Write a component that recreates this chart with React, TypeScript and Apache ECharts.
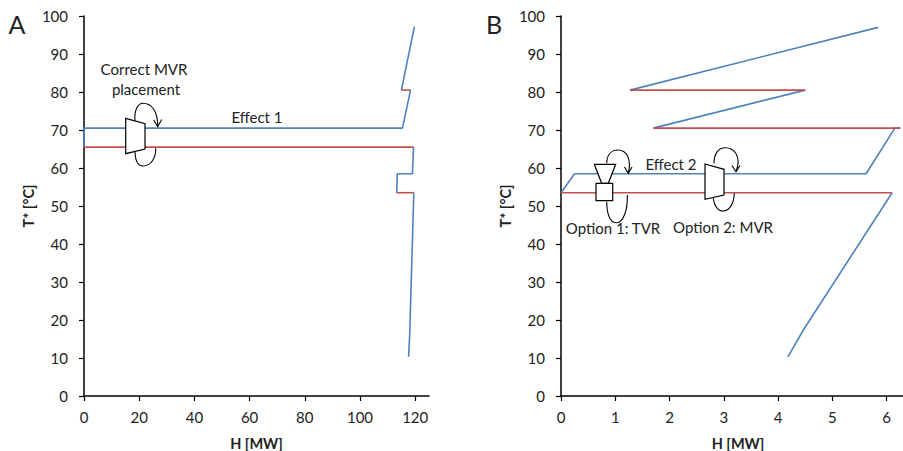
import React, { useEffect, useRef } from "react";
import * as echarts from "echarts";

const FONT = "Lato, Carlito, sans-serif";
const BLUE = "#4f81bd";
const RED = "#c0504d";

const yTicks = [0, 10, 20, 30, 40, 50, 60, 70, 80, 90, 100];
const xTicksA = [0, 20, 40, 60, 80, 100, 120];
const xTicksB = [0, 1, 2, 3, 4, 5, 6];

// Panel A
const aBlue1 = [[117.6, 10.3], [118, 16], [119.5, 53.5]];
const aRed1 = [[119.5, 53.5], [113.3, 53.5]];
const aBlue2 = [[113.3, 53.5], [113.5, 58.5], [119, 58.5], [119.4, 65.5]];
const aRed2 = [[119.4, 65.5], [0, 65.5]];
const aBlue3 = [[0, 65.5], [0, 70.5], [115.4, 70.5], [118.3, 80.5]];
const aRed3 = [[118.3, 80.5], [115, 80.5]];
const aBlue4 = [[115, 80.5], [119.7, 97.2]];

// Panel B
const bBlue1 = [[4.18, 10.3], [4.47, 17.5], [6.1, 53.5]];
const bRed1 = [[6.1, 53.5], [0, 53.5]];
const bBlue2 = [[0, 53.5], [0.25, 58.5], [5.62, 58.5], [6.15, 70.5], [6.25, 70.5]];
const bRed2 = [[6.25, 70.5], [1.7, 70.5]];
const bBlue3 = [[1.7, 70.5], [4.5, 80.5]];
const bRed3 = [[4.5, 80.5], [1.27, 80.5]];
const bBlue4 = [[1.27, 80.5], [5.84, 97]];

const loops: Record<string, string> = {
  loopA1: "M135 120.7 C134 110 138 103.3 143 103.3 C152 103.3 158 112 157.7 126.7",
  loopA2: "M135 150 C135 160 138 166 143 166 C151 166 156 158 155.7 148.3",
  loopB1: "M606.7 163.3 C607 154 612 150 618 150 C626 150 632 158 628.3 173.3",
  loopB2: "M606.7 201.7 C607 216 611 222.7 616.7 222.7 C623 222.7 628 210 627.3 195",
  loopB3: "M714 163.3 C714 153 719 147.7 725 147.7 C734 147.7 742 156 736 171.7",
  loopB4: "M713.3 198.3 C714 206 718 211 723.3 211 C729 211 734 204 734.3 193.3",
};
Object.keys(loops).forEach((k) => {
  echarts.graphic.registerShape(k, echarts.graphic.extendPath(loops[k], {}));
});

const lineSeries = (data: number[][], color: string, idx: number) => ({
  type: "line",
  data,
  xAxisIndex: idx,
  yAxisIndex: idx,
  symbol: "none",
  clip: false,
  silent: true,
  lineStyle: { color, width: 1.6 },
});

const xAxis = (gridIndex: number, max: number, ticks: number[], shift: number) => ({
  type: "value",
  gridIndex,
  min: 0,
  max,
  name: "H [MW]",
  nameLocation: "middle",
  nameGap: 40,
  nameTextStyle: {
    fontFamily: FONT,
    fontWeight: "bold",
    fontSize: 14.5,
    color: "#222",
    padding: [0, 0, 0, shift],
  },
  splitLine: { show: false },
  axisLine: { show: true, onZero: false, lineStyle: { color: "#000", width: 1.5 } },
  axisTick: { show: true, customValues: ticks, length: 5, lineStyle: { color: "#000", width: 1.2 } },
  axisLabel: { customValues: ticks, fontFamily: FONT, fontSize: 15, color: "#222", margin: 13 },
});

const yAxis = (gridIndex: number) => ({
  type: "value",
  gridIndex,
  min: 0,
  max: 100,
  interval: 10,
  name: "T* [°C]",
  nameLocation: "middle",
  nameGap: 48,
  nameTextStyle: { fontFamily: FONT, fontWeight: "bold", fontSize: 14.5, color: "#222" },
  splitLine: { show: false },
  axisLine: { show: true, onZero: false, lineStyle: { color: "#000", width: 1.5 } },
  axisTick: { show: true, length: 5, lineStyle: { color: "#000", width: 1.2 } },
  axisLabel: { customValues: yTicks, fontFamily: FONT, fontSize: 15, color: "#222", margin: 16 },
});

const label = (text: string, x: number, y: number, fontSize = 15) => ({
  type: "text",
  z: 20,
  x,
  y,
  style: { text, fontFamily: FONT, fontSize, fill: "#222", align: "center", verticalAlign: "middle" },
});

const poly = (points: number[][]) => ({
  type: "polygon",
  z: 15,
  shape: { points },
  style: { fill: "#fff", stroke: "#000", lineWidth: 1.2 },
});

const chain = (points: number[][]) => ({
  type: "polyline",
  z: 16,
  shape: { points },
  style: { fill: "none", stroke: "#000", lineWidth: 1.1 },
});

const loop = (type: string) => ({
  type,
  z: 14,
  style: { fill: "none", stroke: "#000", lineWidth: 1.1 },
});

export default function App() {
  const ref = useRef<HTMLDivElement>(null);
  useEffect(() => {
    const chart = echarts.init(ref.current!, undefined, { renderer: "svg" });
    chart.setOption({
      animation: false,
      backgroundColor: "#fff",
      grid: [
        { left: 84, top: 16, width: 345, height: 380, outerBoundsMode: "none" },
        { left: 561, top: 16, width: 342, height: 380, outerBoundsMode: "none" },
      ],
      xAxis: [xAxis(0, 125, xTicksA, 0), xAxis(1, 6.3, xTicksB, 12)],
      yAxis: [yAxis(0), yAxis(1)],
      series: [
        lineSeries(aBlue1, BLUE, 0),
        lineSeries(aBlue2, BLUE, 0),
        lineSeries(aBlue3, BLUE, 0),
        lineSeries(aBlue4, BLUE, 0),
        lineSeries(aRed1, RED, 0),
        lineSeries(aRed2, RED, 0),
        lineSeries(aRed3, RED, 0),
        lineSeries(bBlue1, BLUE, 1),
        lineSeries(bBlue2, BLUE, 1),
        lineSeries(bBlue3, BLUE, 1),
        lineSeries(bBlue4, BLUE, 1),
        lineSeries(bRed1, RED, 1),
        lineSeries(bRed2, RED, 1),
        lineSeries(bRed3, RED, 1),
      ],
      graphic: [
        label("A", 17, 24, 25),
        label("B", 494, 24, 25),
        label("Correct MVR", 144, 69),
        label("placement", 146, 89),
        label("Effect 1", 257, 117),
        label("Effect 2", 671, 164),
        label("Option 1: TVR", 613, 228),
        label("Option 2: MVR", 723, 227),
        loop("loopA1"),
        loop("loopA2"),
        loop("loopB1"),
        loop("loopB2"),
        loop("loopB3"),
        loop("loopB4"),
        chain([[153.7, 120], [157.7, 126.7], [161.7, 119.5]]),
        chain([[624.5, 167], [628.3, 173.3], [632, 167]]),
        chain([[732, 165.5], [736, 171.7], [740, 165.5]]),
        poly([[125.7, 118.3], [145, 123.7], [145, 149], [125.7, 153.7]]),
        poly([[705, 164], [724, 169.3], [724, 195], [705, 199.3]]),
        poly([[594.3, 164.3], [615.7, 164.3], [608.3, 183.3], [601.7, 183.3]]),
        poly([[596, 183.3], [612.7, 183.3], [612.7, 200.7], [596, 200.7]]),
      ],
    });
    return () => chart.dispose();
  }, []);
  return <div ref={ref} style={{ position: "fixed", left: 0, top: 0, width: 903, height: 451 }} />;
}
